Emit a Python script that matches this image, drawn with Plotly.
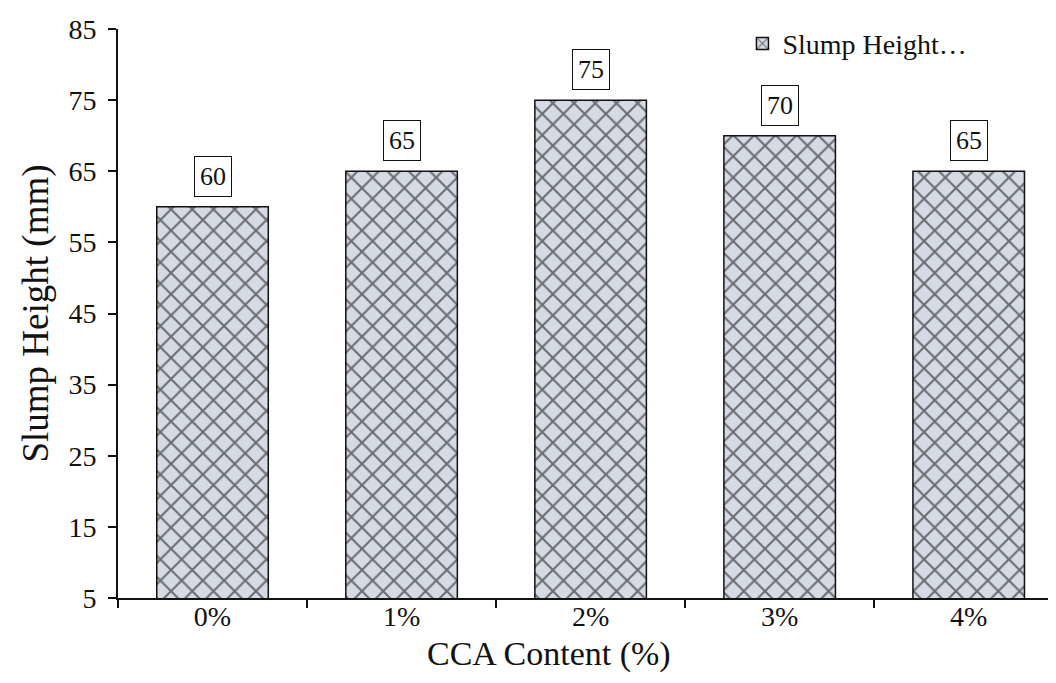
import plotly.graph_objects as go

categories = ["0%", "1%", "2%", "3%", "4%"]
slump_height = [60, 65, 75, 70, 65]
y_ticks = [5, 15, 25, 35, 45, 55, 65, 75, 85]

FONT = "Liberation Serif, Times New Roman, serif"
INK = "#111111"

fig = go.Figure()
fig.add_trace(go.Bar(
    x=categories,
    y=slump_height,
    base=0,
    name="Slump Height…",
    width=0.59,
    marker=dict(
        color="#d6dae4",
        line=dict(color=INK, width=1.5),
        pattern=dict(shape="x", fgcolor="#000000", bgcolor="#d6dae4",
                     size=15, solidity=0.26, fillmode="overlay"),
    ),
))

for c, v in zip(categories, slump_height):
    fig.add_annotation(
        x=c, y=v, text=str(v), showarrow=False, yanchor="bottom", yshift=10,
        font=dict(family=FONT, size=26, color=INK),
        bordercolor=INK, borderwidth=1, borderpad=5, bgcolor="white",
    )

fig.add_annotation(
    x=0.4625, y=-0.099, xref="paper", yref="paper", showarrow=False,
    text="CCA Content (%)", xanchor="center", yanchor="middle",
    font=dict(family=FONT, size=34, color=INK),
)

fig.update_layout(
    width=1048, height=675,
    margin=dict(l=110, r=6, t=14, b=85),
    plot_bgcolor="white", paper_bgcolor="white",
    font=dict(family=FONT, size=28, color=INK),
    showlegend=True,
    legend=dict(x=0.67, y=1.018, xanchor="left", yanchor="top",
                font=dict(family=FONT, size=28, color=INK),
                bgcolor="rgba(0,0,0,0)", itemwidth=30),
)
fig.update_xaxes(
    range=[-0.5, 4.43],
    showline=True, linecolor=INK, linewidth=2,
    ticks="outside", tickson="boundaries", ticklen=8, tickwidth=2, tickcolor=INK,
    tickfont=dict(family=FONT, size=28, color=INK),
    ticklabelstandoff=-8,
    showgrid=False, zeroline=False,
)
fig.update_yaxes(
    range=[4.999, 85.001],
    tickmode="array", tickvals=y_ticks, ticktext=[str(t) for t in y_ticks],
    showline=True, linecolor=INK, linewidth=2,
    ticks="outside", ticklen=8, tickwidth=2, tickcolor=INK,
    tickfont=dict(family=FONT, size=28, color=INK),
    ticklabeloverflow="allow", ticklabelstandoff=6,
    title=dict(text="Slump Height (mm)", font=dict(family=FONT, size=37, color=INK), standoff=8),
    showgrid=False, zeroline=False,
)

fig.write_html("out.html")
